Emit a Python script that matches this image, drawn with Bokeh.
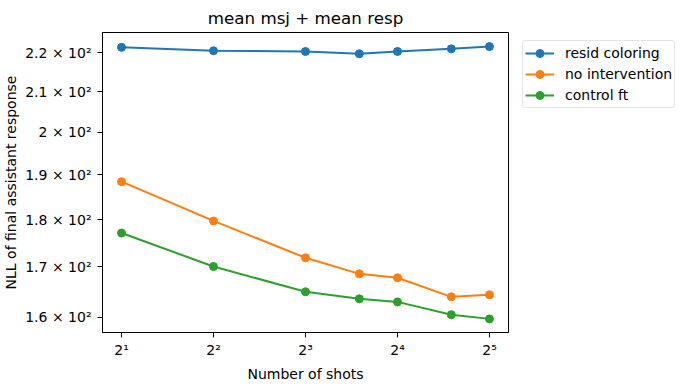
from bokeh.plotting import figure
from bokeh.models import FixedTicker, Legend, LegendItem, Range1d
from bokeh.embed import file_html
from bokeh.resources import INLINE

shots = [2, 4, 8, 12, 16, 24, 32]
resid_coloring = [221.5, 220.6, 220.4, 219.8, 220.4, 221.1, 221.7]
no_intervention = [188.4, 179.7, 171.9, 168.6, 167.8, 164.0, 164.4]
control_ft = [177.1, 170.1, 165.0, 163.6, 163.0, 160.5, 159.7]

x_ticks = [2, 4, 8, 16, 32]
x_labels = ["2¹", "2²", "2³", "2⁴", "2⁵"]
y_ticks = [160, 170, 180, 190, 200, 210, 220]
y_labels = ["1.6 × 10²", "1.7 × 10²", "1.8 × 10²", "1.9 × 10²", "2 × 10²", "2.1 × 10²", "2.2 × 10²"]

FONT = "DejaVu Sans"

p = figure(
    x_axis_type="log", y_axis_type="log",
    frame_width=406, frame_height=300,
    min_border_left=97, min_border_top=24, min_border_bottom=10, min_border_right=166,
    output_backend="svg", toolbar_location=None,
    x_range=Range1d(1.733, 36.93), y_range=Range1d(157.1, 225.5),
    title="mean msj + mean resp",
)
p.title.align = "center"
p.title.text_font = FONT
p.title.text_font_size = "16.7px"
p.title.text_font_style = "normal"
p.title.text_color = "black"

p.xgrid.visible = False
p.ygrid.visible = False
p.outline_line_color = "black"
p.outline_line_width = 1
p.background_fill_color = "white"
p.border_fill_color = "white"

p.xaxis.ticker = FixedTicker(ticks=x_ticks, minor_ticks=[])
p.yaxis.ticker = FixedTicker(ticks=y_ticks, minor_ticks=[])
p.xaxis.major_label_overrides = {t: l for t, l in zip(x_ticks, x_labels)}
p.yaxis.major_label_overrides = {t: l for t, l in zip(y_ticks, y_labels)}

for ax in (p.xaxis, p.yaxis):
    ax.axis_line_color = "black"
    ax.major_tick_line_color = "black"
    ax.major_tick_out = 5
    ax.major_tick_in = 0
    ax.minor_tick_out = 0
    ax.minor_tick_in = 0
    ax.major_label_text_font = FONT
    ax.major_label_text_font_size = "14px"
    ax.major_label_text_color = "black"
    ax.axis_label_text_font = FONT
    ax.axis_label_text_font_size = "14px"
    ax.axis_label_text_font_style = "normal"
    ax.axis_label_text_color = "black"

p.xaxis.axis_label = "Number of shots"
p.yaxis.axis_label = "NLL of final assistant response"
p.xaxis.major_label_standoff = 4
p.yaxis.major_label_standoff = 6
p.yaxis.axis_label_standoff = 3

series = [
    ("resid coloring", resid_coloring, "#1f77b4"),
    ("no intervention", no_intervention, "#ff7f0e"),
    ("control ft", control_ft, "#2ca02c"),
]
items = []
for name, ys, color in series:
    l = p.line(shots, ys, line_color=color, line_width=2)
    s = p.scatter(shots, ys, size=8, fill_color=color, line_color=color)
    items.append(LegendItem(label=name, renderers=[l, s]))

legend = Legend(items=items, location=(14, 224))
legend.label_text_font = FONT
legend.label_text_font_size = "14px"
legend.label_text_color = "black"
legend.border_line_color = "#cccccc"
legend.border_line_width = 1
legend.border_radius = 3
legend.padding = 2
legend.spacing = 1
legend.label_height = 20
legend.glyph_height = 20
legend.glyph_width = 29
legend.label_standoff = 11
legend.margin = 0
p.add_layout(legend, "right")

open("out.html", "w").write(file_html(p, INLINE))
